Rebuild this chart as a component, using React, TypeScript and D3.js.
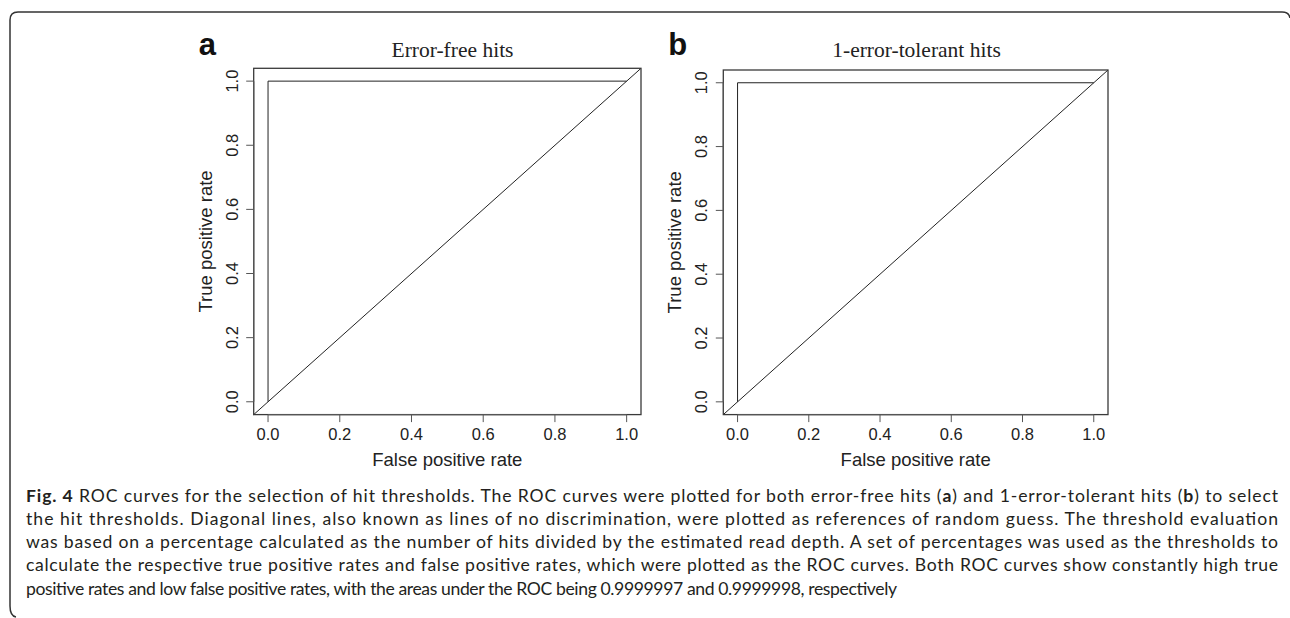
import React from 'react'
import * as d3 from 'd3'

// ROC points (false positive rate, true positive rate)
const fprA = [0, 0, 1]
const tprA = [0, 1, 1]
const fprB = [0, 0, 1]
const tprB = [0, 1, 1]

const ticks = [0, 0.2, 0.4, 0.6, 0.8, 1.0]
const titles = ['Error-free hits', '1-error-tolerant hits']
const panelLabels = ['a', 'b']

const captionLines = [
  [['Fig. 4', true], [' ROC curves for the selection of hit thresholds. The ROC curves were plotted for both error-free hits (', false], ['a', true], [') and 1-error-tolerant hits (', false], ['b', true], [') to select', false]],
  [['the hit thresholds. Diagonal lines, also known as lines of no discrimination, were plotted as references of random guess. The threshold evaluation', false]],
  [['was based on a percentage calculated as the number of hits divided by the estimated read depth. A set of percentages was used as the thresholds to', false]],
  [['calculate the respective true positive rates and false positive rates, which were plotted as the ROC curves. Both ROC curves show constantly high true', false]],
  [['positive rates and low false positive rates, with the areas under the ROC being 0.9999997 and 0.9999998, respectively', false]],
]
const captionWidths = [1252, 1252, 1252, 1252, 871]

const axisColor = '#3a3a3a'
const sans = 'Liberation Sans, Arial, sans-serif'

type PanelProps = {
  x0: number, x1: number, y0: number, y1: number,
  title: string, label: string, titleX: number,
  fpr: number[], tpr: number[],
}

// R-style base plot: axes extended 4% beyond the data range
const Panel = ({ x0, x1, y0, y1, title, label, titleX, fpr, tpr }: PanelProps) => {
  const x = d3.scaleLinear().domain([-0.04, 1.04]).range([x0, x1])
  const y = d3.scaleLinear().domain([-0.04, 1.04]).range([y1, y0])
  const line = d3.line<number>().x((d, i) => x(fpr[i])).y(d => y(d))
  const diag = d3.line<number>().x(d => x(d)).y(d => y(d))
  const tl = 7.5
  return (
    <g>
      <text x={x0 - 55} y={55} fontFamily={sans} fontWeight="bold" fontSize={31} fill="#111">{label}</text>
      <text x={titleX} y={57} textAnchor="middle" fontFamily="Liberation Serif, Times New Roman, serif" fontSize={21.5} fill="#222">{title}</text>
      <path d={line(tpr) || ''} fill="none" stroke="#222" strokeWidth={1} />
      <path d={diag([-0.04, 1.04]) || ''} fill="none" stroke="#222" strokeWidth={1} />
      <rect x={x0} y={y0} width={x1 - x0} height={y1 - y0} fill="none" stroke={axisColor} strokeWidth={1.3} />
      {/* x axis */}
      <line x1={x(0)} x2={x(1)} y1={y1} y2={y1} stroke="#555" strokeWidth={1.3} />
      {ticks.map(t => (
        <g key={'x' + t}>
          <line x1={x(t)} x2={x(t)} y1={y1} y2={y1 + tl} stroke="#555" strokeWidth={1} />
          <text x={x(t)} y={y1 + 25} textAnchor="middle" fontFamily={sans} fontSize={16.5} fill="#222">{t.toFixed(1)}</text>
        </g>
      ))}
      <text x={(x0 + x1) / 2} y={y1 + 51.5} textAnchor="middle" fontFamily={sans} fontSize={18.5} fill="#222">False positive rate</text>
      {/* y axis */}
      <line x1={x0} x2={x0} y1={y(0)} y2={y(1)} stroke="#555" strokeWidth={1.3} />
      {ticks.map(t => (
        <g key={'y' + t}>
          <line x1={x0} x2={x0 - tl} y1={y(t)} y2={y(t)} stroke="#555" strokeWidth={1} />
          <text transform={`translate(${x0 - 16},${y(t)}) rotate(-90)`} textAnchor="middle" fontFamily={sans} fontSize={16.5} fill="#222">{t.toFixed(1)}</text>
        </g>
      ))}
      <text transform={`translate(${x0 - 42},${(y0 + y1) / 2}) rotate(-90)`} textAnchor="middle" fontFamily={sans} fontSize={18.5} fill="#222">True positive rate</text>
    </g>
  )
}

const App = () => (
  <svg width={1290} height={618} style={{ position: 'absolute', left: 0, top: 0, background: '#fff' }}>
    <path d="M10,606 L10,20 Q10,12 18,12 L1282,12 Q1289,12 1290,18 M10,606 Q10,616 16,617" fill="none" stroke="#333" strokeWidth={1.5} />
    <Panel x0={253.7} x1={641} y0={68.3} y1={414.6} title={titles[0]} label={panelLabels[0]} titleX={452.5} fpr={fprA} tpr={tprA} />
    <Panel x0={723.3} x1={1108} y0={70} y1={414.6} title={titles[1]} label={panelLabels[1]} titleX={916.5} fpr={fprB} tpr={tprB} />
    {captionLines.map((segs, i) => (
      <text key={i} x={26} y={501.5 + i * 23.3} fontFamily="Lato, Open Sans, sans-serif" fontSize={17.6} fill="#231f20"
        textLength={captionWidths[i]} lengthAdjust="spacing">
        {segs.map((s, j) => (
          <tspan key={j} fontWeight={s[1] ? 'bold' : 'normal'}>{s[0] as string}</tspan>
        ))}
      </text>
    ))}
  </svg>
)

export default App
